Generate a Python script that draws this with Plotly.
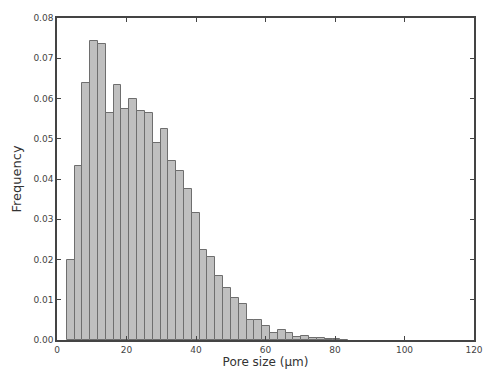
import numpy as np
import plotly.graph_objects as go

# Histogram data
bin_start = 2.8
bin_width = 2.25
frequency = [
    0.0199, 0.0433, 0.0638, 0.0743, 0.0735, 0.0565, 0.0634, 0.0575, 0.0599, 0.0570,
    0.0565, 0.0490, 0.0523, 0.0445, 0.0420, 0.0376, 0.0316, 0.0224, 0.0205, 0.0159,
    0.0128, 0.0105, 0.0089, 0.0050, 0.0050, 0.0035, 0.0017, 0.0025, 0.0017, 0.0007,
    0.0010, 0.0005, 0.0004, 0.0003, 0.0002, 0.0001,
]
x_ticks = [0, 20, 40, 60, 80, 100, 120]
y_ticks = [0.00, 0.01, 0.02, 0.03, 0.04, 0.05, 0.06, 0.07, 0.08]

centers = bin_start + bin_width * (np.arange(len(frequency)) + 0.5)

fig = go.Figure(
    go.Bar(
        x=centers,
        y=frequency,
        width=bin_width,
        marker=dict(color="#bfbfbf", line=dict(color="#6e6e6e", width=1)),
    )
)

axis_common = dict(
    showline=True,
    linecolor="#444444",
    linewidth=1.5,
    mirror="ticks",
    ticks="inside",
    ticklen=4,
    tickcolor="#444444",
    showgrid=False,
    zeroline=False,
    automargin=False,
    ticklabeloverflow="allow",
    tickfont=dict(family="DejaVu Sans", size=9, color="#444444"),
)

fig.update_layout(
    width=483,
    height=374,
    margin=dict(l=57, r=9, t=18, b=34),
    paper_bgcolor="white",
    plot_bgcolor="white",
    showlegend=False,
    bargap=0,
    xaxis=dict(
        range=[0, 120],
        tickvals=x_ticks,
        ticktext=[str(v) for v in x_ticks],
        title=dict(text="Pore size (μm)", font=dict(family="DejaVu Sans", size=12, color="#333333"), standoff=3),
        **axis_common,
    ),
    yaxis=dict(
        range=[0, 0.08],
        tickvals=y_ticks,
        ticktext=[f"{v:.2f}" for v in y_ticks],
        title=dict(text="Frequency", font=dict(family="DejaVu Sans", size=13, color="#333333"), standoff=9),
        **axis_common,
    ),
)

fig.write_html(
    "out.html",
    config={"displayModeBar": False},
    post_script="document.body.style.margin='0';document.body.style.overflow='hidden';",
)
